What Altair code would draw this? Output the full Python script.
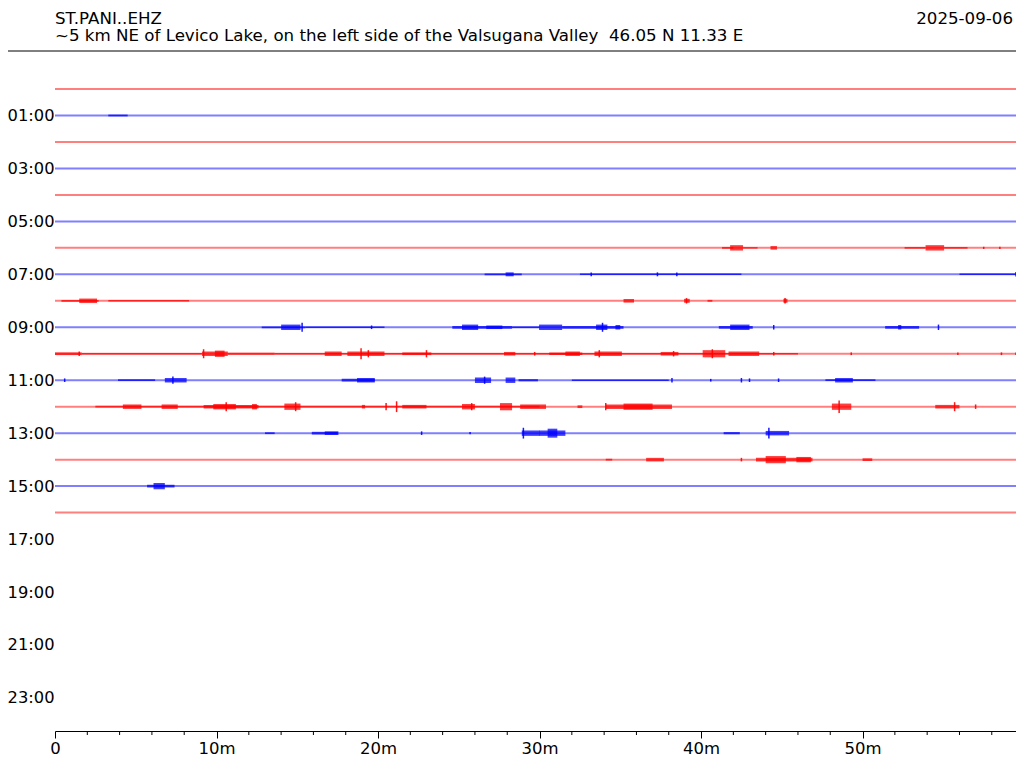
import altair as alt
import pandas as pd

# ---------------- text ----------------
station = "ST.PANI..EHZ"
location = "~5 km NE of Levico Lake, on the left side of the Valsugana Valley\u00a0 46.05 N 11.33 E"
day = "2025-09-06"

# ---------------- traces (hour rows 0..16) ----------------
trace_hours = list(range(17))
major_minutes = [0, 10, 20, 30, 40, 50]
minor_minutes = [m for m in range(0, 60, 2) if m % 10]
hour_labels = list(range(1, 24, 2))

# bursts: (start minute, end minute, half amplitude) ; spikes: (minute, half amplitude)
bursts_01 = [(3.3, 4.5, 1.0)]
spikes_01 = []
bursts_06 = [(41.3, 42.0, 1.0), (41.8, 42.6, 3.0), (42.6, 43.5, 0.8), (44.3, 44.7, 2.0),
             (52.6, 53.9, 0.9), (53.9, 55.05, 3.0), (55.05, 56.5, 0.9)]
spikes_06 = [(57.5, 1.2), (58.5, 1.2)]
bursts_07 = [(26.6, 28.9, 1.0), (27.9, 28.4, 2.2), (32.5, 42.5, 0.8), (56.0, 60.0, 0.8)]
spikes_07 = [(33.2, 2.0), (37.3, 2.2), (38.5, 2.0), (59.5, 2.5)]
bursts_08 = [(0.4, 2.7, 1.0), (1.5, 2.6, 2.5), (3.3, 8.3, 0.8), (35.2, 35.85, 2.0),
             (38.95, 39.3, 2.2), (40.4, 40.7, 1.0), (45.1, 45.35, 2.2)]
spikes_08 = [(39.1, 3.0), (45.2, 3.0)]
bursts_09 = [(12.8, 15.5, 1.0), (14.0, 15.2, 3.0), (15.5, 20.4, 0.8), (24.6, 28.3, 1.5),
             (25.2, 26.2, 3.0), (26.7, 27.7, 2.0), (28.3, 30.0, 0.9), (29.97, 31.4, 3.0),
             (31.4, 35.2, 1.5), (33.5, 34.2, 3.0), (34.7, 35.0, 2.5), (41.1, 43.2, 1.5),
             (41.8, 43.0, 3.0), (51.4, 53.5, 1.5), (52.2, 52.4, 2.5)]
spikes_09 = [(15.3, 5.0), (19.6, 2.0), (33.9, 5.0), (44.5, 2.5), (54.7, 3.0)]
bursts_10 = [(0.0, 1.65, 1.5), (1.65, 9.1, 0.9), (9.1, 10.7, 2.5), (9.9, 10.5, 3.5),
             (10.7, 13.6, 1.2), (13.6, 46.0, 0.9), (16.7, 17.75, 2.5), (18.1, 20.4, 2.5),
             (21.5, 23.3, 1.5), (27.8, 28.5, 2.0), (30.6, 32.65, 1.5), (31.6, 32.5, 2.5),
             (33.4, 35.1, 2.5), (37.5, 38.6, 2.0), (40.1, 41.5, 4.0), (41.7, 43.6, 2.5)]
spikes_10 = [(1.5, 2.5), (9.2, 5.0), (18.95, 6.0), (19.4, 4.0), (23.0, 4.0), (29.7, 2.0),
             (33.7, 4.0), (38.3, 3.0), (40.7, 5.0), (44.5, 2.0), (49.3, 1.5), (55.9, 1.5),
             (58.6, 1.5), (59.7, 1.5)]
bursts_11 = [(3.9, 6.2, 1.0), (6.8, 8.15, 2.5), (17.75, 19.8, 1.5), (18.7, 19.8, 2.5),
             (26.0, 27.0, 3.0), (27.9, 28.5, 3.0), (28.7, 29.9, 1.2), (32.0, 38.0, 0.8),
             (47.7, 50.8, 1.0), (48.3, 49.4, 2.5)]
spikes_11 = [(0.6, 2.0), (7.3, 4.0), (26.6, 4.0), (38.2, 2.5), (40.6, 1.5), (42.5, 2.5),
             (43.0, 2.0), (44.8, 2.0)]
bursts_12 = [(2.5, 30.0, 1.0), (4.2, 5.35, 2.5), (6.6, 7.6, 2.5), (9.2, 12.6, 2.0),
             (9.8, 11.2, 3.0), (12.2, 12.5, 3.0), (14.2, 15.2, 3.5), (19.0, 19.2, 2.0),
             (21.5, 23.0, 2.0), (25.2, 26.0, 3.0), (27.55, 28.3, 4.0), (28.8, 30.4, 2.5),
             (32.35, 32.65, 1.5), (34.1, 38.2, 2.5), (35.2, 37.0, 3.5), (48.1, 49.3, 3.5),
             (54.5, 56.0, 2.0)]
spikes_12 = [(10.6, 5.0), (14.9, 5.0), (20.5, 4.0), (21.15, 6.0), (25.8, 4.0), (34.1, 4.0),
             (48.55, 7.0), (55.7, 5.0), (57.0, 2.5)]
bursts_13 = [(13.0, 13.6, 1.0), (15.9, 17.5, 1.5), (16.7, 17.55, 2.0), (28.9, 30.0, 3.0),
             (29.97, 31.6, 3.0), (30.5, 31.1, 5.0), (41.4, 42.4, 1.2), (44.0, 45.45, 2.5)]
spikes_13 = [(22.7, 2.0), (25.7, 1.2), (29.0, 6.0), (44.2, 6.0)]
bursts_14 = [(34.1, 34.5, 1.0), (36.6, 37.7, 2.0), (43.4, 46.9, 2.0), (44.0, 45.25, 4.0),
             (45.9, 46.8, 3.0), (50.0, 50.6, 1.5)]
spikes_14 = [(42.5, 2.0)]
bursts_15 = [(5.7, 7.4, 1.5), (6.1, 6.8, 3.5)]
spikes_15 = []

burst_sets = {1: bursts_01, 6: bursts_06, 7: bursts_07, 8: bursts_08, 9: bursts_09,
              10: bursts_10, 11: bursts_11, 12: bursts_12, 13: bursts_13, 14: bursts_14,
              15: bursts_15}
spike_sets = {1: spikes_01, 6: spikes_06, 7: spikes_07, 8: spikes_08, 9: spikes_09,
              10: spikes_10, 11: spikes_11, 12: spikes_12, 13: spikes_13, 14: spikes_14,
              15: spikes_15}

GAIN = 0.9 / 26.47  # amplitude units -> hour rows


def band(h):
    return "odd" if h % 2 else "even"


base_df = pd.DataFrame({"hour": trace_hours, "t0": 0, "t1": 60,
                        "band": [band(h) for h in trace_hours]})
b_rows = []
for h, lst in burst_sets.items():
    for t0, t1, a in lst:
        b_rows.append({"hour": h, "t0": t0, "t1": t1, "lo": h - a * GAIN, "hi": h + a * GAIN,
                       "band": band(h)})
burst_df = pd.DataFrame(b_rows)
s_rows = []
for h, lst in spike_sets.items():
    for t, a in lst:
        s_rows.append({"hour": h, "t0": t, "lo": h - a * GAIN, "hi": h + a * GAIN, "band": band(h)})
spike_df = pd.DataFrame(s_rows)
minor_df = pd.DataFrame({"m": minor_minutes})

W, H = 961, 671
FONT = "DejaVu Sans"
color_scale = alt.Scale(domain=["even", "odd"], range=["#ff0000", "#0000ff"])
x_scale = alt.Scale(domain=[0, 59.5], nice=False, zero=False, clamp=True)
y_scale = alt.Scale(domain=[-1.096, 24.25], reverse=True, nice=False, zero=False)

x_axis = alt.Axis(
    values=major_minutes,
    labelExpr="datum.value === 0 ? '0' : datum.value + 'm'",
    tickSize=7, tickColor="black", tickWidth=1, domainColor="black", domainWidth=1,
    labelFont=FONT, labelFontSize=16.5, labelColor="black", labelPadding=2,
    labelOverlap=False, labelFlush=False, grid=False, title=None,
)
y_axis = alt.Axis(
    values=hour_labels,
    labelExpr="(datum.value < 10 ? '0' : '') + datum.value + ':00'",
    ticks=False, domain=False, grid=False, title=None,
    labelFont=FONT, labelFontSize=16.3, labelColor="black", labelPadding=1,
)

baseline = alt.Chart(base_df).mark_rule(strokeWidth=2, opacity=0.5, clip=True).encode(
    x=alt.X("t0:Q", scale=x_scale, axis=x_axis),
    x2="t1:Q",
    y=alt.Y("hour:Q", scale=y_scale, axis=y_axis),
    color=alt.Color("band:N", scale=color_scale, legend=None),
)

bursts = alt.Chart(burst_df).mark_rect(opacity=0.75, clip=True).encode(
    x="t0:Q", x2="t1:Q", y="lo:Q", y2="hi:Q",
    color=alt.Color("band:N", scale=color_scale, legend=None),
)

spikes = alt.Chart(spike_df).mark_rule(strokeWidth=1.5, opacity=0.9, clip=True).encode(
    x="t0:Q", y="lo:Q", y2="hi:Q",
    color=alt.Color("band:N", scale=color_scale, legend=None),
)

minor_ticks = alt.Chart(minor_df).mark_rule(color="black", strokeWidth=1).encode(
    x="m:Q", y=alt.value(H), y2=alt.value(H + 4))

one = pd.DataFrame({"k": [0]})
TFS = 16.67
title_left = alt.Chart(one).mark_text(align="left", baseline="alphabetic", font=FONT,
                                      fontSize=TFS, color="black").encode(
    x=alt.value(0), y=alt.value(-36.5), text=alt.value(station))
title_date = alt.Chart(one).mark_text(align="right", baseline="alphabetic", font=FONT,
                                      fontSize=TFS, color="black").encode(
    x=alt.value(958), y=alt.value(-36.5), text=alt.value(day))
subtitle = alt.Chart(one).mark_text(align="left", baseline="alphabetic", font=FONT,
                                    fontSize=TFS, color="black").encode(
    x=alt.value(0), y=alt.value(-19.5), text=alt.value(location))
header_line = alt.Chart(one).mark_rule(color="black", strokeWidth=1).encode(
    x=alt.value(-47), x2=alt.value(W), y=alt.value(-9))

chart = alt.layer(baseline, bursts, spikes, minor_ticks, title_left, title_date, subtitle,
                  header_line).properties(
    width=W, height=H,
    autosize="none",
    background="white",
    padding={"left": 47, "top": 52, "right": 0, "bottom": 25},
).configure_view(stroke=None)

chart.save("out.html", embed_options={"renderer": "svg", "actions": False})
